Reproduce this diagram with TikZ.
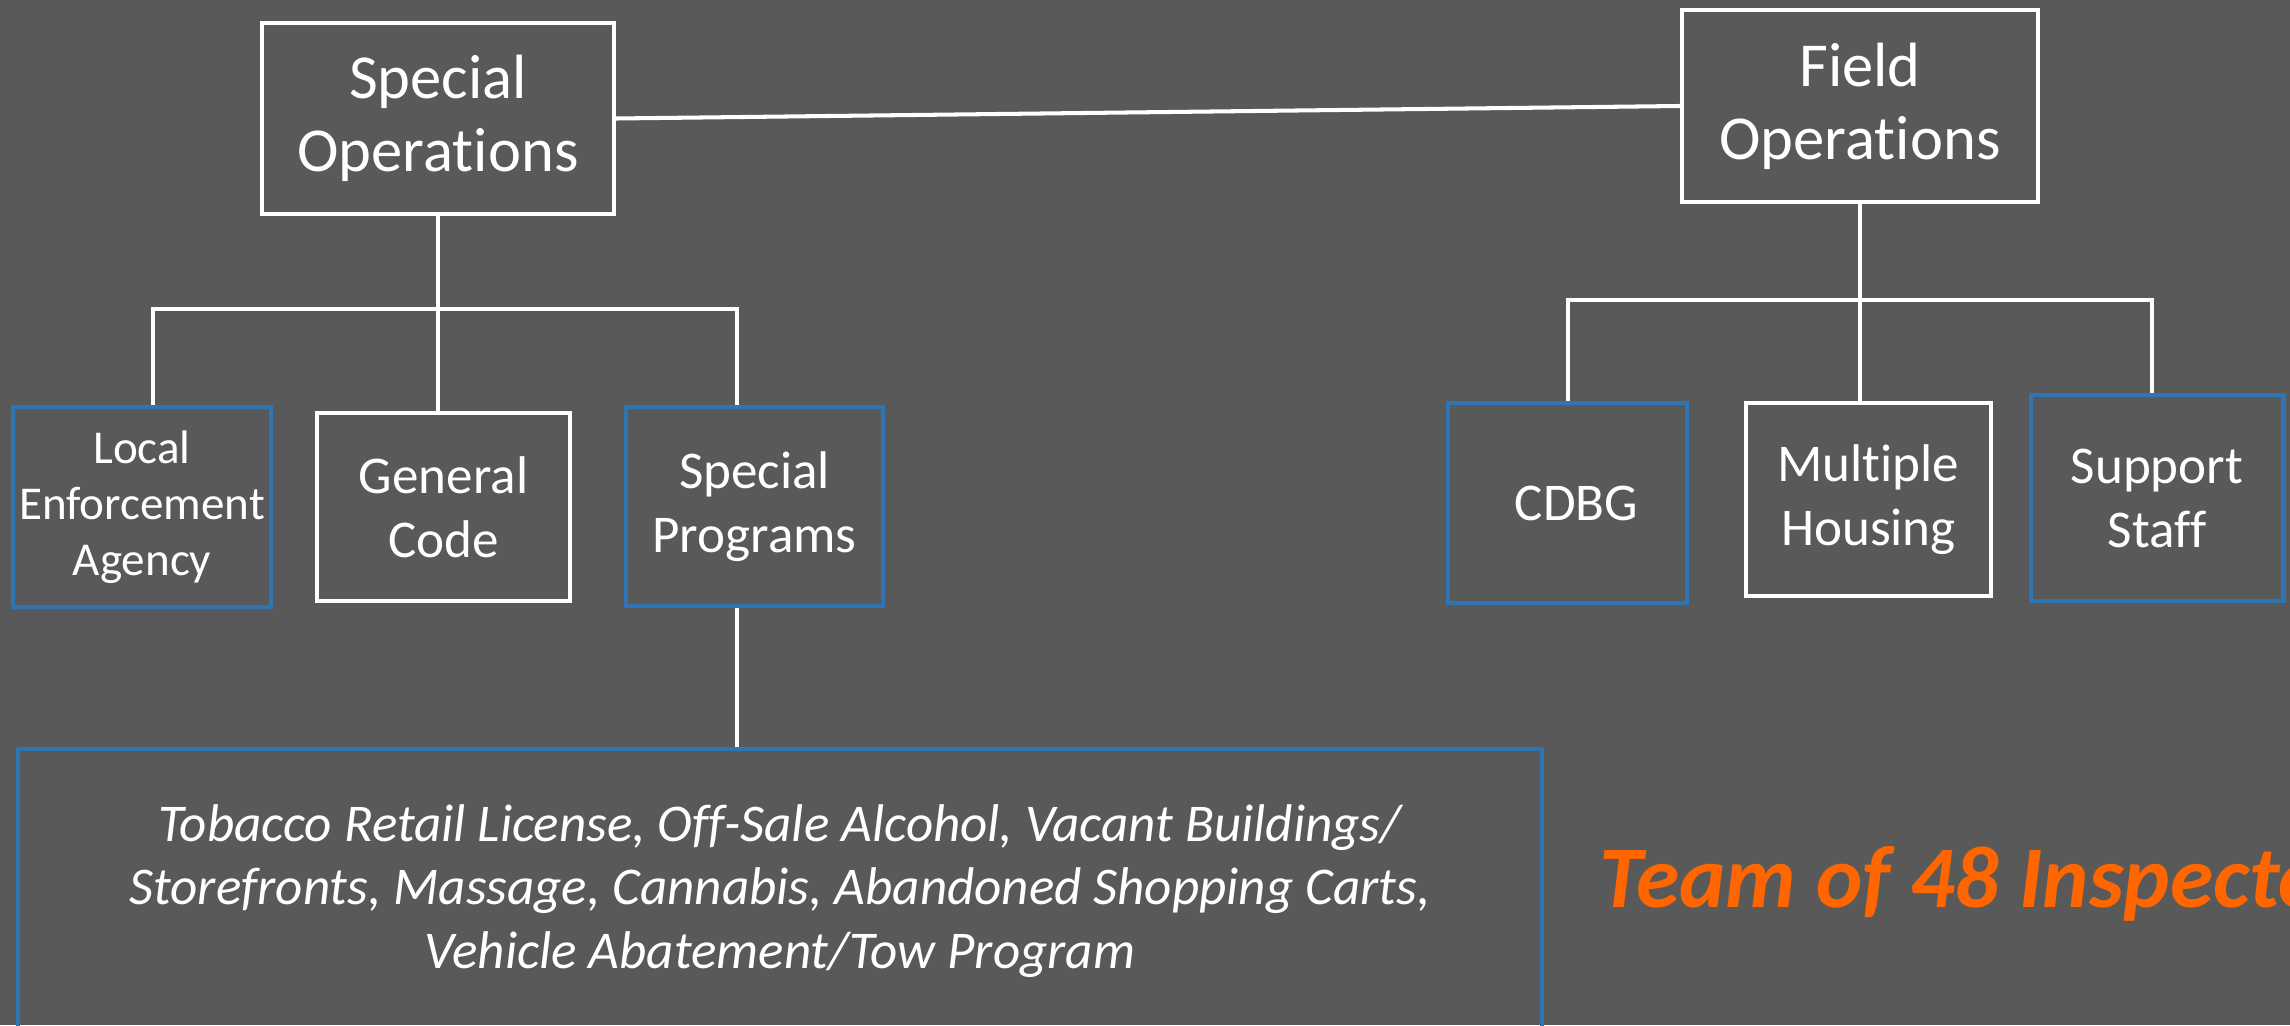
\documentclass[tikz,border=0pt]{standalone}
\usepackage{fontspec}
\setmainfont{Carlito}[Ligatures=NoCommon]
\usetikzlibrary{positioning}

\definecolor{slate}{HTML}{595959}
\definecolor{unitblue}{HTML}{2E75B6}
\definecolor{teamorange}{HTML}{FF6600}

\begin{document}
\begin{tikzpicture}
    [%%%%%%%%%%%%%%%%%%%%%%%%%%%%%%
    box/.style={rectangle,draw=white,line width=1.2pt,inner sep=0pt,text=white,align=center},
    bluebox/.style={box,draw=unitblue,line width=1.4pt},
    headfont/.style={font=\fontsize{17.8}{20.8}\selectfont},
    unitfont/.style={font=\fontsize{15.1}{18.2}\selectfont},
    link/.style={draw=white,line width=1.15pt},
    ]%%%%%%%%%%%%%%%%%%%%%%%%%%%%%%

    \useasboundingbox[fill=slate] (0,0) rectangle (22.9,-10.25);
    \clip (0,0) rectangle (22.9,-10.25);

    % divisions
    \node[box,headfont,minimum width=3.52cm,minimum height=1.91cm] at (4.38,-1.185)(specops){Special\\Operations};
    \node[box,headfont,minimum width=3.56cm,minimum height=1.92cm] at (18.60,-1.06)(fieldops){Field\\Operations};
    \draw[link](specops.east) -- (fieldops.west);

    % special operations units
    \node[bluebox,font=\fontsize{13.4}{16}\selectfont,minimum width=2.58cm,minimum height=2.00cm] at (1.42,-5.07)(lea){Local\\Enforcement\\Agency};
    \node[box,unitfont,minimum width=2.53cm,minimum height=1.88cm] at (4.435,-5.07)(gencode){General\\Code};
    \node[bluebox,unitfont,minimum width=2.57cm,minimum height=1.99cm] at (7.545,-5.065)(specprog){Special\\Programs};
    \coordinate (specbar) at (4.38,-3.09);
    \draw[link](specops.south) -- (specops.south |- gencode.north);
    \draw[link]([xshift=1.1mm]lea.north) |- (specbar) -| ([xshift=-1.75mm]specprog.north);

    % program list
    \node[bluebox,font=\itshape\fontsize{15.1}{18.1}\selectfont,minimum width=15.24cm,minimum height=2.84cm] at (7.80,-8.91)(proglist)
        {Tobacco Retail License, Off-Sale Alcohol, Vacant Buildings/\\Storefronts, Massage, Cannabis, Abandoned Shopping Carts,\\Vehicle Abatement/Tow Program};
    \draw[link]([xshift=-1.75mm]specprog.south) -- ([xshift=-1.75mm]proglist.north -| specprog.south);

    % field operations units
    \node[bluebox,unitfont,minimum width=2.39cm,minimum height=2.00cm] at (15.675,-5.03)(cdbg){\hspace{1.8mm}CDBG};
    \node[box,unitfont,minimum width=2.45cm,minimum height=1.93cm] at (18.685,-4.995)(multihousing){Multiple\\Housing};
    \node[bluebox,unitfont,minimum width=2.52cm,minimum height=2.06cm] at (21.57,-4.98)(support){Support\\Staff};
    \coordinate (fieldbar) at (18.60,-3.00);
    \draw[link](fieldops.south) -- (fieldops.south |- multihousing.north);
    \draw[link](cdbg.north) |- (fieldbar) -| ([xshift=-0.5mm]support.north);

    % headcount
    \node[anchor=base west,text=teamorange,font=\bfseries\itshape\fontsize{25}{30}\selectfont] at (15.87,-9.07)(team){Team of 48 Inspectors};

\end{tikzpicture}
\end{document}
